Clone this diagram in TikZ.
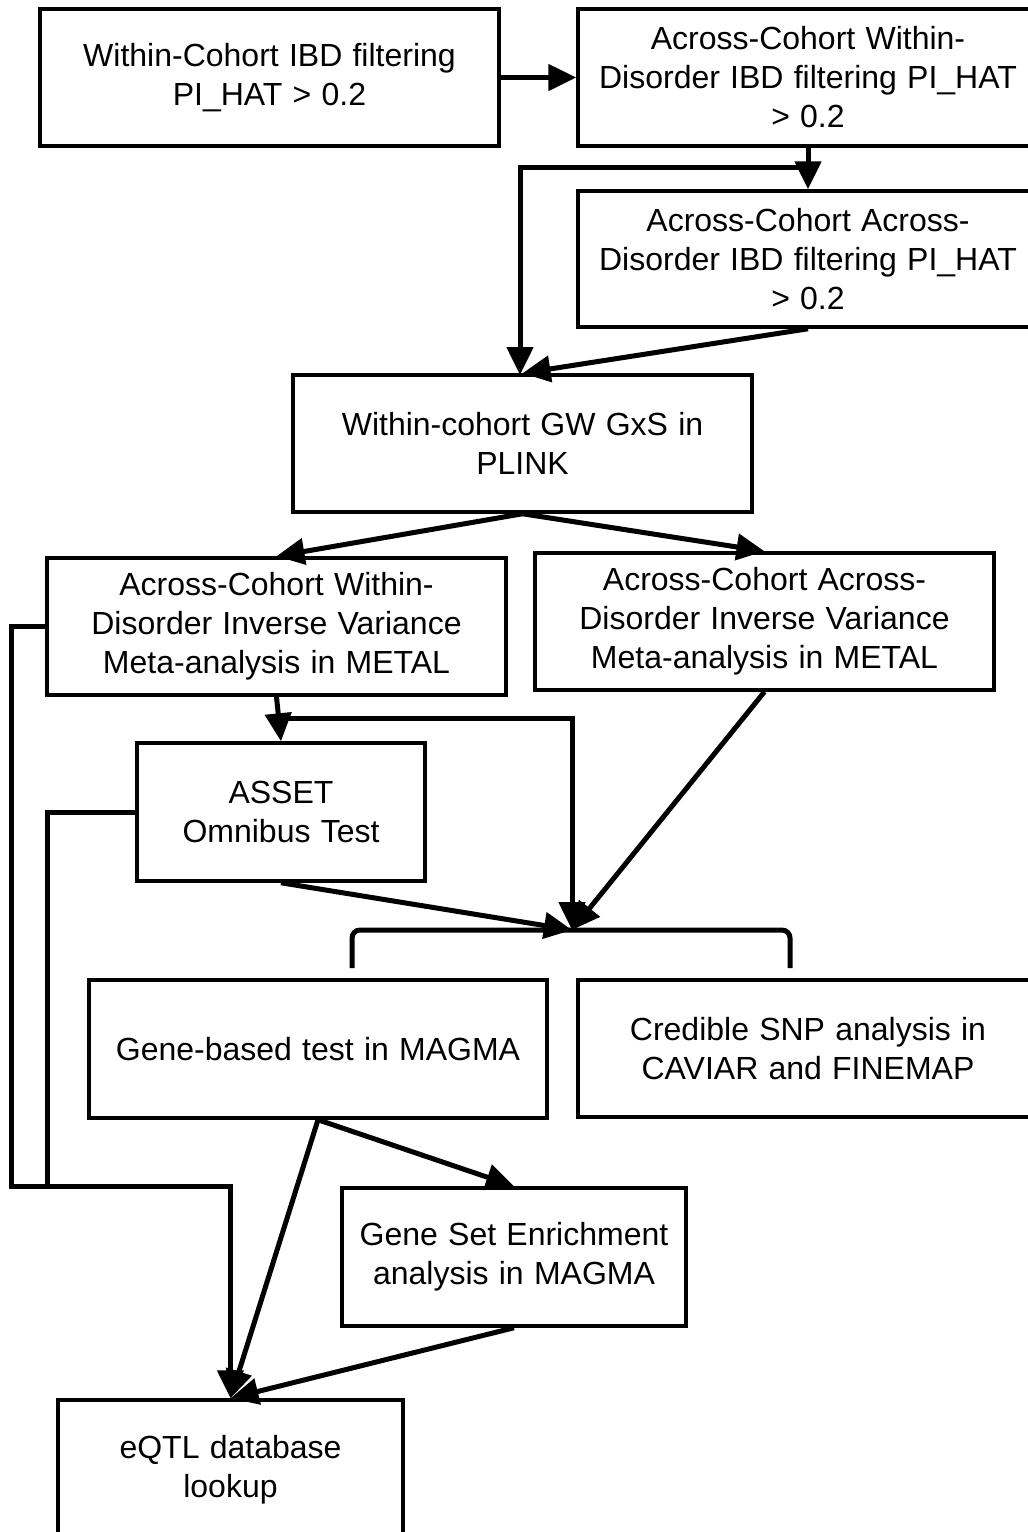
\documentclass[tikz,border=0pt]{standalone}
\usepackage{fontspec}
\setmainfont[WordSpace=1.15]{Liberation Sans}
\usetikzlibrary{arrows.meta}
\begin{document}
\begin{tikzpicture}[x=1pt,y=-1pt,
  box/.style={draw=black,line width=3.5pt,fill=white,align=center,inner sep=0pt,
    font=\fontsize{32}{39}\selectfont},
  conn/.style={line width=5pt,-{Triangle[length=28pt,width=26pt]}},
  plain/.style={line width=5pt}]
\useasboundingbox (0,0) rectangle (1028,1532);
\fill[white] (0,0) rectangle (1028,1532);
\node[box,minimum width=459pt,minimum height=137pt] (b1) at (269.5,77.5) {Within-Cohort IBD filtering\\PI\_HAT > 0.2};
\node[box,minimum width=460pt,minimum height=137pt] (b2) at (808,77.5) {Across-Cohort Within-\\Disorder IBD filtering PI\_HAT\\> 0.2};
\node[box,minimum width=460pt,minimum height=136pt] (b3) at (808,259) {Across-Cohort Across-\\Disorder IBD filtering PI\_HAT\\> 0.2};
\node[box,minimum width=459pt,minimum height=137pt] (b4) at (522.5,443.5) {Within-cohort GW GxS in\\PLINK};
\node[box,minimum width=459pt,minimum height=137pt] (b5) at (276.5,626.5) {Across-Cohort Within-\\Disorder Inverse Variance\\Meta-analysis in METAL};
\node[box,minimum width=459pt,minimum height=137pt] (b6) at (764.5,621.5) {Across-Cohort Across-\\Disorder Inverse Variance\\Meta-analysis in METAL};
\node[box,minimum width=288pt,minimum height=138pt] (b7) at (281,812) {ASSET\\Omnibus Test};
\node[box,minimum width=458pt,minimum height=138pt] (b8) at (318,1049) {Gene-based test in MAGMA};
\node[box,minimum width=460pt,minimum height=137pt] (b9) at (808,1048.5) {Credible SNP analysis in\\CAVIAR and FINEMAP};
\node[box,minimum width=344pt,minimum height=138pt] (b10) at (514,1257) {Gene Set Enrichment\\analysis in MAGMA};
\node[box,minimum width=345pt,minimum height=140pt] (b11) at (230.5,1470) {eQTL database\\lookup};
\coordinate (j1) at (808,167);
\coordinate (j2) at (281,718);
\coordinate (br) at (572,930);
\coordinate (brl) at (352,968);
\coordinate (brr) at (790,968);
\coordinate (j3) at (47,1186);
\coordinate (lo) at (11,1186);
% connectors
\draw[conn] (b1.east) -- (b2.west);
\draw[conn] (b2.south) -- (b3.north);
\draw[conn] (j1) -| (520,375);
\draw[conn] (b3.south) -- (b4.north);
\draw[conn] (b4.south) -- (b5.north);
\draw[conn] (b4.south) -- (b6.north);
\draw[conn] (b5.south) -- (b7.north);
\draw[conn] (j2) -| (br);
\draw[plain,rounded corners=8pt] (brl) |- (br) -| (brr);
\draw[conn] (b7.south) -- (br);
\draw[conn] (b6.south) -- (br);
\draw[conn] (b8.south) -- (b10.north);
\draw[conn] (b8.south) -- (b11.north);
\draw[conn] (b10.south) -- (b11.north);
\draw[plain] (b5.west) -| (lo) -- (j3);
\draw[conn] (b7.west) -| (j3) -| (b11.north);
\end{tikzpicture}
\end{document}
